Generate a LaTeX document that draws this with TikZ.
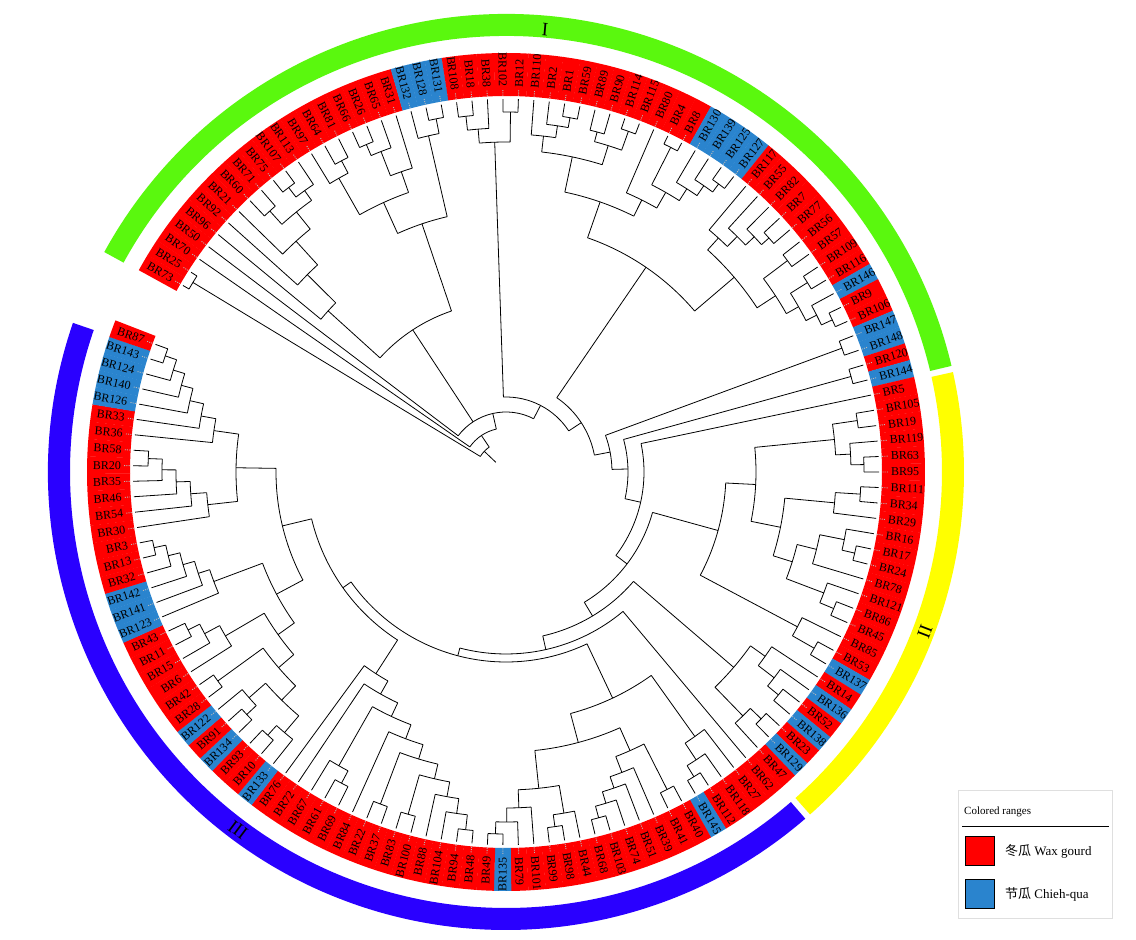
\documentclass[tikz,border=0pt]{standalone}
\usepackage{fontspec}
\setmainfont{Liberation Serif}
\newfontfamily\cjk{Noto Sans CJK SC}
\definecolor{wax}{RGB}{255,0,0}
\definecolor{chieh}{RGB}{42,132,206}
\definecolor{ringI}{RGB}{90,248,14}
\definecolor{ringII}{RGB}{255,255,0}
\definecolor{ringIII}{RGB}{42,0,255}
\tikzset{
  br/.style={line width=0.8pt, black},
  lbl/.style={font=\fontsize{12}{14}\selectfont, inner sep=0pt, text=black},
  dotc/.style={gray!55, line width=0.9pt, dash pattern=on 1pt off 1.2pt},
  ringlbl/.style={font=\fontsize{19}{20}\selectfont, inner sep=0pt}
}
\newcommand\TRsetnode[3]{\expandafter\xdef\csname TRa@#1\endcsname{#2}\expandafter\xdef\csname TRr@#1\endcsname{#3}}
\newcommand\TRleaf[3]{%
  \pgfmathsetmacro\TRla{150-(#1-1)*2.381}%
  \TRsetnode{#2}{\TRla}{373}%
  \pgfmathsetmacro\TRlb{\TRla+1.21}%
  \pgfmathsetmacro\TRlc{\TRla-1.21}%
  \fill[#3] (\TRlb:376) arc[start angle=\TRlb, end angle=\TRlc, radius=376] -- (\TRlc:419) arc[start angle=\TRlc, end angle=\TRlb, radius=419] -- cycle;
  \draw[dotc] (\TRla:376.5) -- (\TRla:383);
  \pgfmathtruncatemacro\TRflip{(\TRla>90 || \TRla<-90) ? 1 : 0}%
  \ifnum\TRflip=1
    \pgfmathsetmacro\TRrot{\TRla+180}%
    \node[lbl, anchor=east, rotate=\TRrot] at (\TRla:385) {BR#2};
  \else
    \node[lbl, anchor=west, rotate=\TRla] at (\TRla:385) {BR#2};
  \fi
}
\newcommand\TRclade[3]{%
  \gdef\TRfirst{}%
  \foreach \c in {#3}{%
    \ifx\TRfirst\empty\xdef\TRfirst{\c}\fi
    \xdef\TRlast{\c}}%
  \edef\TRaF{\csname TRa@\TRfirst\endcsname}%
  \edef\TRaL{\csname TRa@\TRlast\endcsname}%
  \pgfmathsetmacro\TRaM{(\TRaF+\TRaL)/2}%
  \TRsetnode{#1}{\TRaM}{#2}%
  \draw[br] (\TRaF:#2) arc[start angle=\TRaF, end angle=\TRaL, radius=#2];
  \foreach \c in {#3}{%
    \edef\TRca{\csname TRa@\c\endcsname}%
    \edef\TRcr{\csname TRr@\c\endcsname}%
    \draw[br] (\TRca:#2) -- (\TRca:\TRcr);}%
}
\newcommand\TRsector[5]{%
  \fill[#5] (#1:#3) arc[start angle=#1, end angle=#2, radius=#3] -- (#2:#4) arc[start angle=#2, end angle=#1, radius=#4] -- cycle;}
\begin{document}
\begin{tikzpicture}[x=1pt,y=1pt]
\useasboundingbox (0,0) rectangle (1136,940);
\fill[white] (0,0) rectangle (1136,940);
\begin{scope}[shift={(506,468)}]
% clade rings
\TRsector{151.3}{13.4}{436}{458}{ringI}
\TRsector{12.6}{-48.4}{436}{458}{ringII}
\TRsector{-49.2}{-199.0}{436}{458}{ringIII}
% leaves
\foreach \i/\n/\cc in {1/73/wax,2/25/wax,3/70/wax,4/50/wax,5/96/wax,6/92/wax,7/21/wax,8/60/wax,9/71/wax,10/75/wax,
11/107/wax,12/113/wax,13/97/wax,14/64/wax,15/81/wax,16/66/wax,17/26/wax,18/65/wax,19/31/wax,20/132/chieh,
21/128/chieh,22/131/chieh,23/108/wax,24/18/wax,25/38/wax,26/102/wax,27/12/wax,28/110/wax,29/2/wax,30/1/wax,
31/59/wax,32/89/wax,33/90/wax,34/114/wax,35/115/wax,36/80/wax,37/4/wax,38/8/wax,39/130/chieh,40/139/chieh,
41/125/chieh,42/127/chieh,43/117/wax,44/55/wax,45/82/wax,46/7/wax,47/77/wax,48/56/wax,49/57/wax,50/109/wax,
51/116/wax,52/146/chieh,53/9/wax,54/106/wax,55/147/chieh,56/148/chieh,57/120/wax,58/144/chieh,59/5/wax,60/105/wax,
61/19/wax,62/119/wax,63/63/wax,64/95/wax,65/111/wax,66/34/wax,67/29/wax,68/16/wax,69/17/wax,70/24/wax,
71/78/wax,72/121/wax,73/86/wax,74/45/wax,75/85/wax,76/53/wax,77/137/chieh,78/14/wax,79/136/chieh,80/52/wax,
81/138/chieh,82/23/wax,83/129/chieh,84/47/wax,85/62/wax,86/27/wax,87/118/wax,88/112/wax,89/145/chieh,90/40/wax,
91/41/wax,92/39/wax,93/51/wax,94/74/wax,95/103/wax,96/68/wax,97/44/wax,98/98/wax,99/99/wax,100/101/wax,
101/79/wax,102/135/chieh,103/49/wax,104/48/wax,105/94/wax,106/104/wax,107/88/wax,108/100/wax,109/83/wax,110/37/wax,
111/22/wax,112/84/wax,113/69/wax,114/61/wax,115/67/wax,116/72/wax,117/76/wax,118/133/chieh,119/10/wax,120/93/wax,
121/134/chieh,122/91/wax,123/122/chieh,124/28/wax,125/42/wax,126/6/wax,127/15/wax,128/11/wax,129/43/wax,130/123/chieh,
131/141/chieh,132/142/chieh,133/32/wax,134/13/wax,135/3/wax,136/30/wax,137/54/wax,138/46/wax,139/35/wax,140/20/wax,
141/58/wax,142/36/wax,143/33/wax,144/126/chieh,145/140/chieh,146/124/chieh,147/143/chieh,148/87/wax}
  {\TRleaf{\i}{\n}{\cc}}
% tree: clade I
\TRclade{c1}{366}{73,25}
\TRclade{g1}{352}{60,71}
\TRclade{g2}{358}{75,107}
\TRclade{g3}{346}{g2,113}
\TRclade{g4}{334}{g1,g3}
\TRclade{g5}{312}{21,g4}
\TRclade{g6}{280}{92,g5}
\TRclade{g7}{240}{96,g6}
\TRclade{h1}{352}{64,81}
\TRclade{h2}{338}{97,h1}
\TRclade{h3}{356}{66,26}
\TRclade{h4}{344}{h3,65}
\TRclade{h5}{318}{h4,31}
\TRclade{h6}{296}{h2,h5}
\TRclade{h7}{360}{128,131}
\TRclade{h8}{345}{132,h7}
\TRclade{h9}{262}{h6,h8}
\TRclade{g8}{170}{g7,h9}
\TRclade{t1}{358}{108,18}
\TRclade{t2}{344}{t1,38}
\TRclade{t3}{360}{102,12}
\TRclade{t4}{330}{t2,t3}
\TRclade{u1}{360}{1,59}
\TRclade{u2}{350}{2,u1}
\TRclade{u3}{338}{110,u2}
\TRclade{u4}{352}{89,90}
\TRclade{u5}{362}{114,115}
\TRclade{u6}{342}{u4,u5}
\TRclade{u7}{322}{u3,u6}
\TRclade{u8}{358}{125,127}
\TRclade{u9}{348}{139,u8}
\TRclade{u10}{336}{130,u9}
\TRclade{u11}{364}{4,8}
\TRclade{u12}{322}{u11,u10}
\TRclade{u13}{304}{80,u12}
\TRclade{u14}{286}{u7,u13}
\TRclade{u15}{352}{7,77}
\TRclade{u16}{342}{82,u15}
\TRclade{u17}{330}{55,u16}
\TRclade{u18}{316}{117,u17}
\TRclade{u19}{352}{56,57}
\TRclade{u20}{356}{109,116}
\TRclade{u21}{360}{9,106}
\TRclade{u22}{348}{146,u21}
\TRclade{u23}{336}{u20,u22}
\TRclade{u24}{322}{u19,u23}
\TRclade{u25}{300}{u18,u24}
\TRclade{u26}{248}{u14,u25}
\TRclade{v1}{358}{147,148}
\TRclade{v2}{358}{120,144}
% clade II
\TRclade{x1}{355}{105,19}
\TRclade{x2}{358}{63,95}
\TRclade{x3}{345}{119,x2}
\TRclade{x4}{330}{x1,x3}
\TRclade{x5}{355}{111,34}
\TRclade{x6}{330}{x5,29}
\TRclade{x7}{358}{17,24}
\TRclade{x8}{345}{16,x7}
\TRclade{x9}{320}{x8,78}
\TRclade{x10}{355}{86,45}
\TRclade{x11}{340}{121,x10}
\TRclade{x12}{300}{x9,x11}
\TRclade{x13}{280}{x6,x12}
\TRclade{x14}{250}{x4,x13}
\TRclade{x15}{355}{53,137}
\TRclade{x16}{330}{85,x15}
\TRclade{x17}{220}{x14,x16}
\TRclade{y1}{352}{52,138}
\TRclade{y2}{338}{136,y1}
\TRclade{y3}{318}{14,y2}
\TRclade{y4}{355}{23,129}
\TRclade{y5}{340}{y4,47}
\TRclade{y6}{300}{y3,y5}
% clade III
\TRclade{b1}{358}{112,145}
\TRclade{b2}{345}{118,b1}
\TRclade{b3}{325}{27,b2}
\TRclade{b4}{356}{40,41}
\TRclade{b5}{358}{103,68}
\TRclade{b6}{346}{74,b5}
\TRclade{b7}{334}{51,b6}
\TRclade{b8}{322}{39,b7}
\TRclade{b9}{305}{b4,b8}
\TRclade{b10}{358}{98,99}
\TRclade{b11}{346}{44,b10}
\TRclade{b12}{362}{135,49}
\TRclade{b13}{350}{79,b12}
\TRclade{b14}{336}{101,b13}
\TRclade{b15}{318}{b11,b14}
\TRclade{b16}{280}{b9,b15}
\TRclade{b17}{250}{b3,b16}
\TRclade{b18}{360}{48,94}
\TRclade{b19}{345}{b18,104}
\TRclade{b20}{330}{b19,88}
\TRclade{b21}{356}{100,83}
\TRclade{b22}{315}{b20,b21}
\TRclade{b23}{355}{37,22}
\TRclade{b24}{300}{b22,b23}
\TRclade{b25}{285}{b24,84}
\TRclade{b26}{352}{69,61}
\TRclade{b27}{338}{b26,67}
\TRclade{b28}{270}{b25,b27}
\TRclade{b29}{255}{b28,72}
\TRclade{b30}{240}{b29,76}
\TRclade{b31}{355}{10,93}
\TRclade{b32}{342}{133,b31}
\TRclade{b33}{355}{134,91}
\TRclade{b34}{342}{b33,122}
\TRclade{b35}{320}{b32,b34}
\TRclade{b36}{356}{28,42}
\TRclade{b37}{300}{b35,b36}
\TRclade{b38}{355}{11,43}
\TRclade{b39}{342}{15,b38}
\TRclade{b40}{325}{6,b39}
\TRclade{b41}{280}{b37,b40}
\TRclade{b42}{360}{13,3}
\TRclade{b43}{348}{32,b42}
\TRclade{b44}{336}{142,b43}
\TRclade{b45}{324}{141,b44}
\TRclade{b46}{312}{123,b45}
\TRclade{b47}{260}{b41,b46}
\TRclade{b48}{358}{20,58}
\TRclade{b49}{344}{35,b48}
\TRclade{b50}{330}{46,b49}
\TRclade{b51}{316}{54,b50}
\TRclade{b52}{300}{30,b51}
\TRclade{b53}{360}{143,87}
\TRclade{b54}{348}{124,b53}
\TRclade{b55}{336}{140,b54}
\TRclade{b56}{324}{126,b55}
\TRclade{b57}{310}{33,b56}
\TRclade{b58}{295}{36,b57}
\TRclade{b59}{270}{b52,b58}
\TRclade{b60}{230}{b47,b59}
\TRclade{b61}{200}{b30,b60}
\TRclade{b62}{190}{b17,b61}
% backbone
\TRclade{nL}{182}{62,b62}
\TRclade{nK}{168}{y6,nL}
\TRclade{nJ}{152}{x17,nK}
\TRclade{nI}{138}{5,nJ}
\TRclade{nH}{122}{v2,nI}
\TRclade{nG}{106}{v1,nH}
\TRclade{nF}{90}{u26,nG}
\TRclade{nE}{75}{t4,nF}
\TRclade{nD}{60}{50,g8,nE}
\TRclade{nB}{44}{70,nD}
\TRclade{root}{30}{c1,nB}
\edef\TRra{\csname TRa@root\endcsname}
\draw[br] (\TRra:14) -- (\TRra:30);
\end{scope}
% clade labels
\node[ringlbl, rotate=-5] (lI) at (545,910) {I};
\node[ringlbl, rotate=-111] (lII) at (925,308) {II};
\node[ringlbl, rotate=143] (lIII) at (238,110) {III};
% legend
\draw[gray!25, line width=0.8pt] (958,22) rectangle (1112,150);
\node[anchor=west, font=\fontsize{11}{12}\selectfont, inner sep=0pt] (lt) at (964,128) {Colored ranges};
\draw[line width=0.9pt] (962,114) -- (1109,114);
\node[draw=black, line width=0.8pt, fill=wax, minimum size=29pt, inner sep=0pt] (sq1) at (980,89) {};
\node[draw=black, line width=0.8pt, fill=chieh, minimum size=29pt, inner sep=0pt] (sq2) at (980,46) {};
\node[anchor=west, font=\fontsize{13}{14}\selectfont, inner sep=0pt] (t1) at (1005,89) {{\cjk 冬瓜} Wax gourd};
\node[anchor=west, font=\fontsize{13}{14}\selectfont, inner sep=0pt] (t2) at (1005,46) {{\cjk 节瓜} Chieh-qua};
\end{tikzpicture}
\end{document}
